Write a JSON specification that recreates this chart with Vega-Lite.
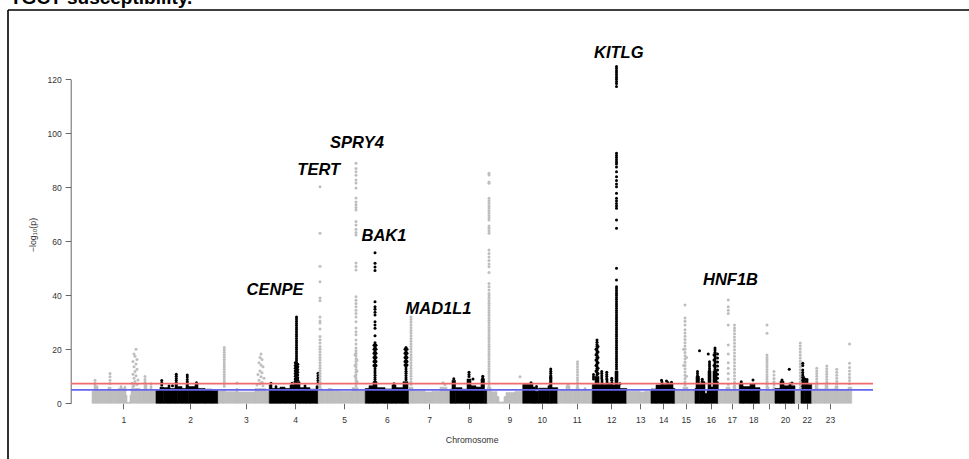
{
"$schema":"https://vega.github.io/schema/vega-lite/v6.json",
"width":961,"height":449,
"autosize":{"type":"none"},
"padding":{"left":8,"top":10,"right":0,"bottom":0},
"background":"white",
"title":{"text":"TGCT susceptibility.","anchor":"start","frame":"group","orient":"top","fontSize":19,"fontWeight":"bold","font":"Liberation Sans","color":"#000","baseline":"top","offset":2.5,"dx":2},
"config":{"view":{"stroke":"#000","strokeWidth":1.6,"strokeDash":[961,1410,449,0]}},
"datasets":{
"bulk":[
{"c":1,"x":0,"x2":8,"y":4.5},{"c":1,"x":8,"x2":16,"y":7.8},{"c":1,"x":16,"x2":24,"y":6.5},{"c":1,"x":24,"x2":64,"y":4.8},{"c":1,"x":64,"x2":76,"y":6},{"c":1,"x":76,"x2":104,"y":5},{"c":1,"x":104,"x2":112,"y":5.5},{"c":1,"x":112,"x2":120,"y":6.5},{"c":1,"x":120,"x2":128,"y":5.5},{"c":1,"x":128,"x2":136,"y":6.3},{"c":1,"x":136,"x2":140,"y":3},{"c":1,"x":140,"x2":152,"y":0.4},{"c":1,"x":152,"x2":156,"y":3},{"c":1,"x":156,"x2":192,"y":5.5},{"c":1,"x":192,"x2":208,"y":4.8},{"c":1,"x":208,"x2":220,"y":7},{"c":1,"x":220,"x2":232,"y":4.8},{"c":1,"x":232,"x2":240,"y":6.5},{"c":1,"x":240,"x2":256,"y":4.8},
{"c":2,"x":256,"x2":272,"y":4.8},{"c":2,"x":272,"x2":286,"y":6},{"c":2,"x":286,"x2":304,"y":5.8},{"c":2,"x":304,"x2":312,"y":6.8},{"c":2,"x":312,"x2":332,"y":5.5},{"c":2,"x":332,"x2":342,"y":7},{"c":2,"x":342,"x2":360,"y":6.2},{"c":2,"x":360,"x2":376,"y":5.5},{"c":2,"x":376,"x2":386,"y":7},{"c":2,"x":386,"x2":412,"y":6.2},{"c":2,"x":412,"x2":424,"y":7.1},{"c":2,"x":424,"x2":452,"y":5.5},{"c":2,"x":452,"x2":480,"y":5.2},{"c":2,"x":480,"x2":505,"y":4.8},
{"c":3,"x":505,"x2":524,"y":4.6},{"c":3,"x":524,"x2":534,"y":5},{"c":3,"x":534,"x2":576,"y":4.3},{"c":3,"x":576,"x2":584,"y":5.5},{"c":3,"x":584,"x2":652,"y":4.2},{"c":3,"x":652,"x2":696,"y":5.5},{"c":3,"x":696,"x2":709,"y":4.5},
{"c":4,"x":709,"x2":720,"y":6.8},{"c":4,"x":720,"x2":732,"y":5.5},{"c":4,"x":732,"x2":740,"y":6.5},{"c":4,"x":740,"x2":752,"y":5.5},{"c":4,"x":752,"x2":772,"y":6},{"c":4,"x":772,"x2":792,"y":5.5},{"c":4,"x":792,"x2":808,"y":6.8},{"c":4,"x":808,"x2":832,"y":8},{"c":4,"x":832,"x2":848,"y":5.8},{"c":4,"x":848,"x2":856,"y":6.8},{"c":4,"x":856,"x2":872,"y":5.8},{"c":4,"x":872,"x2":896,"y":5.2},{"c":4,"x":896,"x2":905,"y":6.5},
{"c":5,"x":905,"x2":920,"y":5.5},{"c":5,"x":920,"x2":944,"y":4.7},{"c":5,"x":944,"x2":960,"y":5.5},{"c":5,"x":960,"x2":992,"y":4.7},{"c":5,"x":992,"x2":1040,"y":4.5},{"c":5,"x":1040,"x2":1064,"y":5.8},{"c":5,"x":1064,"x2":1093,"y":4.6},
{"c":6,"x":1093,"x2":1108,"y":5.5},{"c":6,"x":1108,"x2":1124,"y":6.5},{"c":6,"x":1124,"x2":1140,"y":8},{"c":6,"x":1140,"x2":1172,"y":5.8},{"c":6,"x":1172,"x2":1200,"y":5.3},{"c":6,"x":1200,"x2":1216,"y":6.8},{"c":6,"x":1216,"x2":1244,"y":5.8},{"c":6,"x":1244,"x2":1264,"y":8},{"c":6,"x":1264,"x2":1268,"y":5},
{"c":7,"x":1268,"x2":1284,"y":6},{"c":7,"x":1284,"x2":1332,"y":4.8},{"c":7,"x":1332,"x2":1360,"y":4.2},{"c":7,"x":1360,"x2":1392,"y":4.5},{"c":7,"x":1392,"x2":1420,"y":6},{"c":7,"x":1420,"x2":1432,"y":4.8},
{"c":8,"x":1432,"x2":1440,"y":5.2},{"c":8,"x":1440,"x2":1454,"y":8.5},{"c":8,"x":1454,"x2":1480,"y":5.8},{"c":8,"x":1480,"x2":1500,"y":5.2},{"c":8,"x":1500,"x2":1516,"y":9},{"c":8,"x":1516,"x2":1536,"y":6.5},{"c":8,"x":1536,"x2":1556,"y":6},{"c":8,"x":1556,"x2":1570,"y":9},{"c":8,"x":1570,"x2":1581,"y":5},
{"c":9,"x":1581,"x2":1596,"y":6},{"c":9,"x":1596,"x2":1620,"y":4.3},{"c":9,"x":1620,"x2":1628,"y":2.5},{"c":9,"x":1628,"x2":1648,"y":0.5},{"c":9,"x":1648,"x2":1656,"y":2.5},{"c":9,"x":1656,"x2":1692,"y":4},{"c":9,"x":1692,"x2":1723,"y":4.4},
{"c":10,"x":1723,"x2":1764,"y":7},{"c":10,"x":1764,"x2":1772,"y":6},{"c":10,"x":1772,"x2":1786,"y":4.5},{"c":10,"x":1786,"x2":1824,"y":5.6},{"c":10,"x":1824,"x2":1830,"y":6.5},{"c":10,"x":1830,"x2":1840,"y":10},{"c":10,"x":1840,"x2":1863,"y":5.8},
{"c":11,"x":1863,"x2":1896,"y":4.8},{"c":11,"x":1896,"x2":1912,"y":6.5},{"c":11,"x":1912,"x2":1936,"y":4.8},{"c":11,"x":1936,"x2":1948,"y":6},{"c":11,"x":1948,"x2":1968,"y":4.8},{"c":11,"x":1968,"x2":1976,"y":5.8},{"c":11,"x":1976,"x2":1992,"y":4.8},{"c":11,"x":1992,"x2":2001,"y":4.5},
{"c":12,"x":2001,"x2":2012,"y":7},{"c":12,"x":2012,"x2":2028,"y":10},{"c":12,"x":2028,"x2":2036,"y":7},{"c":12,"x":2036,"x2":2044,"y":9},{"c":12,"x":2044,"x2":2056,"y":7},{"c":12,"x":2056,"x2":2064,"y":9},{"c":12,"x":2064,"x2":2076,"y":7.5},{"c":12,"x":2076,"x2":2084,"y":8},{"c":12,"x":2084,"x2":2092,"y":6.8},{"c":12,"x":2092,"x2":2104,"y":12},{"c":12,"x":2104,"x2":2112,"y":6.8},{"c":12,"x":2112,"x2":2139,"y":5.5},
{"c":13,"x":2139,"x2":2192,"y":4.5},{"c":13,"x":2192,"x2":2212,"y":4.2},{"c":13,"x":2212,"x2":2236,"y":4.5},
{"c":14,"x":2236,"x2":2256,"y":5.3},{"c":14,"x":2256,"x2":2276,"y":6.8},{"c":14,"x":2276,"x2":2284,"y":8.2},{"c":14,"x":2284,"x2":2300,"y":7},{"c":14,"x":2300,"x2":2308,"y":8},{"c":14,"x":2308,"x2":2324,"y":7.4},{"c":14,"x":2324,"x2":2332,"y":5.5},
{"c":15,"x":2332,"x2":2364,"y":4.8},{"c":15,"x":2364,"x2":2384,"y":6},{"c":15,"x":2384,"x2":2412,"y":4.8},
{"c":16,"x":2412,"x2":2416,"y":5.5},{"c":16,"x":2416,"x2":2430,"y":10},{"c":16,"x":2430,"x2":2436,"y":7},{"c":16,"x":2436,"x2":2452,"y":8},{"c":16,"x":2452,"x2":2460,"y":3.6},{"c":16,"x":2460,"x2":2464,"y":5},{"c":16,"x":2464,"x2":2476,"y":12},{"c":16,"x":2476,"x2":2484,"y":6},{"c":16,"x":2484,"x2":2500,"y":12},{"c":16,"x":2500,"x2":2505,"y":8},
{"c":17,"x":2505,"x2":2536,"y":4.8},{"c":17,"x":2536,"x2":2552,"y":6},{"c":17,"x":2552,"x2":2564,"y":5},{"c":17,"x":2564,"x2":2576,"y":6.5},{"c":17,"x":2576,"x2":2589,"y":4.8},
{"c":18,"x":2589,"x2":2604,"y":7.5},{"c":18,"x":2604,"x2":2632,"y":6.2},{"c":18,"x":2632,"x2":2652,"y":7.3},{"c":18,"x":2652,"x2":2672,"y":5.8},
{"c":19,"x":2672,"x2":2696,"y":4.5},{"c":19,"x":2696,"x2":2708,"y":6},{"c":19,"x":2708,"x2":2724,"y":4.8},{"c":19,"x":2724,"x2":2732,"y":6},
{"c":20,"x":2732,"x2":2752,"y":5.5},{"c":20,"x":2752,"x2":2768,"y":8.2},{"c":20,"x":2768,"x2":2788,"y":6.5},{"c":20,"x":2788,"x2":2796,"y":7.5},{"c":20,"x":2796,"x2":2812,"y":6.5},
{"c":21,"x":2812,"x2":2836,"y":4.8},
{"c":22,"x":2836,"x2":2850,"y":10},{"c":22,"x":2850,"x2":2864,"y":8.5},{"c":22,"x":2864,"x2":2879,"y":7},
{"c":23,"x":2879,"x2":2892,"y":5},{"c":23,"x":2892,"x2":2904,"y":7},{"c":23,"x":2904,"x2":2932,"y":5.3},{"c":23,"x":2932,"x2":2944,"y":7},{"c":23,"x":2944,"x2":2972,"y":5.3},{"c":23,"x":2972,"x2":2984,"y":6.5},{"c":23,"x":2984,"x2":3024,"y":5},{"c":23,"x":3024,"x2":3039,"y":6}
],
"pts":[
{"c":1,"x":12,"y":8.5},{"c":1,"x":72,"y":11},{"c":1,"x":72,"y":9.8},{"c":1,"x":72,"y":8.5},{"c":1,"x":72,"y":7.3},
{"c":1,"x":176,"y":20},{"c":1,"x":168,"y":18.3},{"c":1,"x":172,"y":17.4},{"c":1,"x":180,"y":16.2},{"c":1,"x":164,"y":15.5},{"c":1,"x":176,"y":14.6},{"c":1,"x":168,"y":13.5},{"c":1,"x":180,"y":12.6},{"c":1,"x":172,"y":11.8},{"c":1,"x":164,"y":10.8},{"c":1,"x":176,"y":10.2},{"c":1,"x":168,"y":9.3},{"c":1,"x":184,"y":8.6},{"c":1,"x":172,"y":8.1},{"c":1,"x":160,"y":7.4},{"c":1,"x":180,"y":7},{"c":1,"x":168,"y":6.6},{"c":1,"x":164,"y":6.2},
{"c":1,"x":212,"y":9.9},{"c":1,"x":212,"y":8.8},{"c":1,"x":212,"y":7.8},{"c":1,"x":236,"y":7.2},
{"c":2,"x":279,"y":8.4},{"c":2,"x":279,"y":7.5},{"c":2,"x":279,"y":6.8},{"c":2,"x":322,"y":6.5},
{"c":2,"x":337,"y":10.8},{"c":2,"x":337,"y":10},{"c":2,"x":337,"y":9.2},{"c":2,"x":337,"y":8.4},{"c":2,"x":337,"y":7.6},
{"c":2,"x":381,"y":10.5},{"c":2,"x":381,"y":9.7},{"c":2,"x":381,"y":8.8},{"c":2,"x":381,"y":8},{"c":2,"x":381,"y":7.4},{"c":2,"x":418,"y":7.6},
{"c":3,"x":529,"y":20.7},{"c":3,"x":529,"y":19.8},{"c":3,"x":529,"y":18.9},{"c":3,"x":529,"y":18},{"c":3,"x":529,"y":17.1},{"c":3,"x":529,"y":16.2},{"c":3,"x":529,"y":15.3},{"c":3,"x":529,"y":14.4},{"c":3,"x":529,"y":13.5},{"c":3,"x":529,"y":12.6},{"c":3,"x":529,"y":11.7},{"c":3,"x":529,"y":10.8},{"c":3,"x":529,"y":9.9},{"c":3,"x":529,"y":9},{"c":3,"x":529,"y":8.1},{"c":3,"x":529,"y":7.2},{"c":3,"x":529,"y":6.3},
{"c":3,"x":580,"y":7.5},
{"c":3,"x":676,"y":18.3},{"c":3,"x":672,"y":17},{"c":3,"x":680,"y":16.2},{"c":3,"x":668,"y":15},{"c":3,"x":676,"y":14.2},{"c":3,"x":684,"y":13.5},{"c":3,"x":672,"y":12},{"c":3,"x":680,"y":11.3},{"c":3,"x":664,"y":10.7},{"c":3,"x":676,"y":9.8},{"c":3,"x":688,"y":9.3},{"c":3,"x":668,"y":8.5},{"c":3,"x":680,"y":7.8},{"c":3,"x":672,"y":7.2},{"c":3,"x":660,"y":6.8},{"c":3,"x":684,"y":6.5},
{"c":4,"x":716,"y":7.4},{"c":4,"x":800,"y":7.4},
{"c":4,"x":818,"y":32},{"c":4,"x":818,"y":31.2},{"c":4,"x":818,"y":30.4},{"c":4,"x":818,"y":29.6},{"c":4,"x":818,"y":28.8},{"c":4,"x":818,"y":28},{"c":4,"x":818,"y":27.2},{"c":4,"x":818,"y":26.4},{"c":4,"x":818,"y":25.6},{"c":4,"x":818,"y":24.8},{"c":4,"x":818,"y":24},{"c":4,"x":818,"y":23.2},{"c":4,"x":818,"y":22.4},{"c":4,"x":818,"y":21.6},{"c":4,"x":818,"y":20.8},{"c":4,"x":818,"y":20},{"c":4,"x":818,"y":19.2},{"c":4,"x":818,"y":18.4},{"c":4,"x":818,"y":17.6},{"c":4,"x":818,"y":16.8},{"c":4,"x":818,"y":16},{"c":4,"x":818,"y":15.2},{"c":4,"x":818,"y":14.4},{"c":4,"x":818,"y":13.6},{"c":4,"x":818,"y":12.8},{"c":4,"x":818,"y":12},{"c":4,"x":818,"y":11.2},{"c":4,"x":818,"y":10.4},{"c":4,"x":818,"y":9.6},{"c":4,"x":818,"y":8.8},
{"c":4,"x":813,"y":15},{"c":4,"x":813,"y":14},{"c":4,"x":813,"y":13},{"c":4,"x":813,"y":12},{"c":4,"x":813,"y":11},{"c":4,"x":813,"y":10},{"c":4,"x":813,"y":9},{"c":4,"x":813,"y":8.2},
{"c":4,"x":823,"y":14.5},{"c":4,"x":823,"y":13.5},{"c":4,"x":823,"y":12.5},{"c":4,"x":823,"y":11.5},{"c":4,"x":823,"y":10.5},{"c":4,"x":823,"y":9.5},{"c":4,"x":823,"y":8.5},
{"c":4,"x":904,"y":11.1},{"c":4,"x":904,"y":10.2},{"c":4,"x":904,"y":9.3},{"c":4,"x":904,"y":8.4},{"c":4,"x":904,"y":7.5},
{"c":5,"x":912,"y":80.2},{"c":5,"x":912,"y":63},{"c":5,"x":912,"y":50.8},{"c":5,"x":912,"y":45},{"c":5,"x":912,"y":39},{"c":5,"x":912,"y":38},{"c":5,"x":912,"y":32},{"c":5,"x":912,"y":30.5},{"c":5,"x":912,"y":29.7},{"c":5,"x":912,"y":27.5},{"c":5,"x":912,"y":24.7},{"c":5,"x":912,"y":23.5},{"c":5,"x":912,"y":22.3},{"c":5,"x":912,"y":21},{"c":5,"x":912,"y":20},{"c":5,"x":912,"y":19},{"c":5,"x":912,"y":18},{"c":5,"x":912,"y":17},{"c":5,"x":912,"y":16},{"c":5,"x":912,"y":15},{"c":5,"x":912,"y":14},{"c":5,"x":912,"y":13},{"c":5,"x":912,"y":12},{"c":5,"x":912,"y":11},{"c":5,"x":912,"y":10},{"c":5,"x":912,"y":9},{"c":5,"x":912,"y":8},{"c":5,"x":912,"y":7},{"c":5,"x":912,"y":6},
{"c":5,"x":1056,"y":88.9},{"c":5,"x":1056,"y":87},{"c":5,"x":1056,"y":85.8},{"c":5,"x":1056,"y":84.5},{"c":5,"x":1056,"y":82.7},{"c":5,"x":1056,"y":81.6},{"c":5,"x":1056,"y":79.7},{"c":5,"x":1056,"y":76},{"c":5,"x":1056,"y":74.6},{"c":5,"x":1056,"y":73.5},{"c":5,"x":1056,"y":72.5},{"c":5,"x":1056,"y":71.6},{"c":5,"x":1056,"y":67.3},{"c":5,"x":1056,"y":66},{"c":5,"x":1056,"y":64.5},{"c":5,"x":1056,"y":63.3},{"c":5,"x":1056,"y":62.3},{"c":5,"x":1056,"y":52},{"c":5,"x":1056,"y":50.7},{"c":5,"x":1056,"y":49.4},{"c":5,"x":1056,"y":39.5},{"c":5,"x":1056,"y":38.2},{"c":5,"x":1056,"y":37},{"c":5,"x":1056,"y":35.8},{"c":5,"x":1056,"y":34.5},{"c":5,"x":1056,"y":33.3},{"c":5,"x":1056,"y":32},{"c":5,"x":1056,"y":30.2},{"c":5,"x":1056,"y":27.9},{"c":5,"x":1056,"y":26.5},{"c":5,"x":1056,"y":25.4},{"c":5,"x":1056,"y":23.4},{"c":5,"x":1056,"y":22},{"c":5,"x":1056,"y":20.5},{"c":5,"x":1056,"y":19.5},{"c":5,"x":1056,"y":18.5},{"c":5,"x":1056,"y":17.5},{"c":5,"x":1056,"y":16.5},{"c":5,"x":1056,"y":15.5},{"c":5,"x":1056,"y":14.5},{"c":5,"x":1056,"y":13.5},{"c":5,"x":1056,"y":12.5},{"c":5,"x":1056,"y":11.5},{"c":5,"x":1056,"y":10.5},{"c":5,"x":1056,"y":9.5},{"c":5,"x":1056,"y":8.5},{"c":5,"x":1056,"y":7.5},{"c":5,"x":1056,"y":6.5},
{"c":5,"x":1052,"y":18},{"c":5,"x":1060,"y":16},{"c":5,"x":1052,"y":14},{"c":5,"x":1060,"y":12},{"c":5,"x":1052,"y":10},{"c":5,"x":1060,"y":8},
{"c":6,"x":1132,"y":55.8},{"c":6,"x":1132,"y":51.9},{"c":6,"x":1132,"y":50.5},{"c":6,"x":1132,"y":49.2},{"c":6,"x":1132,"y":37.6},{"c":6,"x":1132,"y":35.8},{"c":6,"x":1132,"y":34.8},{"c":6,"x":1132,"y":33.7},{"c":6,"x":1132,"y":32.7},{"c":6,"x":1132,"y":30.2},{"c":6,"x":1132,"y":29},{"c":6,"x":1132,"y":27.8},{"c":6,"x":1132,"y":25},{"c":6,"x":1132,"y":22.4},{"c":6,"x":1132,"y":21.6},{"c":6,"x":1132,"y":20.8},{"c":6,"x":1132,"y":20},{"c":6,"x":1132,"y":19.2},{"c":6,"x":1132,"y":18.4},{"c":6,"x":1132,"y":17.6},{"c":6,"x":1132,"y":16.8},{"c":6,"x":1132,"y":16},{"c":6,"x":1132,"y":15.2},{"c":6,"x":1132,"y":14.4},{"c":6,"x":1132,"y":13.6},{"c":6,"x":1132,"y":12.8},{"c":6,"x":1132,"y":12},{"c":6,"x":1132,"y":11.2},{"c":6,"x":1132,"y":10.4},{"c":6,"x":1132,"y":9.6},{"c":6,"x":1132,"y":8.8},{"c":6,"x":1132,"y":8},
{"c":6,"x":1128,"y":21.5},{"c":6,"x":1128,"y":20},{"c":6,"x":1128,"y":18.5},{"c":6,"x":1128,"y":17},{"c":6,"x":1128,"y":15.5},{"c":6,"x":1128,"y":14},
{"c":6,"x":1136,"y":21.5},{"c":6,"x":1136,"y":20},{"c":6,"x":1136,"y":18.5},{"c":6,"x":1136,"y":17},{"c":6,"x":1136,"y":15.5},{"c":6,"x":1136,"y":14},
{"c":6,"x":1256,"y":20.7},{"c":6,"x":1256,"y":19.9},{"c":6,"x":1256,"y":19.1},{"c":6,"x":1256,"y":18.3},{"c":6,"x":1256,"y":17.5},{"c":6,"x":1256,"y":16.7},{"c":6,"x":1256,"y":15.9},{"c":6,"x":1256,"y":15.1},{"c":6,"x":1256,"y":14.3},{"c":6,"x":1256,"y":13.5},{"c":6,"x":1256,"y":12.7},{"c":6,"x":1256,"y":11.9},{"c":6,"x":1256,"y":11.1},{"c":6,"x":1256,"y":10.3},{"c":6,"x":1256,"y":9.5},{"c":6,"x":1256,"y":8.7},
{"c":6,"x":1252,"y":20},{"c":6,"x":1252,"y":18.5},{"c":6,"x":1252,"y":17},{"c":6,"x":1252,"y":15.5},{"c":6,"x":1252,"y":14.2},
{"c":6,"x":1260,"y":20},{"c":6,"x":1260,"y":18.5},{"c":6,"x":1260,"y":17},{"c":6,"x":1260,"y":15.5},{"c":6,"x":1260,"y":14.2},{"c":6,"x":1208,"y":7.2},
{"c":7,"x":1276,"y":32},{"c":7,"x":1276,"y":31},{"c":7,"x":1276,"y":30},{"c":7,"x":1276,"y":29},{"c":7,"x":1276,"y":28},{"c":7,"x":1276,"y":27},{"c":7,"x":1276,"y":26},{"c":7,"x":1276,"y":25},{"c":7,"x":1276,"y":24},{"c":7,"x":1276,"y":23},{"c":7,"x":1276,"y":22},{"c":7,"x":1276,"y":21},{"c":7,"x":1276,"y":20},{"c":7,"x":1276,"y":19},{"c":7,"x":1276,"y":18},{"c":7,"x":1276,"y":17},{"c":7,"x":1276,"y":16},{"c":7,"x":1276,"y":15},{"c":7,"x":1276,"y":14},{"c":7,"x":1276,"y":13},{"c":7,"x":1276,"y":12},{"c":7,"x":1276,"y":11},{"c":7,"x":1276,"y":10},{"c":7,"x":1276,"y":9},{"c":7,"x":1276,"y":8},{"c":7,"x":1276,"y":7},
{"c":7,"x":1404,"y":7.6},{"c":7,"x":1412,"y":7},
{"c":8,"x":1447,"y":9.1},{"c":8,"x":1508,"y":11.5},{"c":8,"x":1508,"y":10.7},{"c":8,"x":1508,"y":9.9},{"c":8,"x":1524,"y":9},{"c":8,"x":1563,"y":10},{"c":8,"x":1563,"y":9.3},
{"c":9,"x":1588,"y":85.2},{"c":9,"x":1588,"y":84.6},{"c":9,"x":1588,"y":82},{"c":9,"x":1588,"y":81.5},{"c":9,"x":1588,"y":75.9},{"c":9,"x":1588,"y":75},{"c":9,"x":1588,"y":74.1},{"c":9,"x":1588,"y":73.2},{"c":9,"x":1588,"y":72.3},{"c":9,"x":1588,"y":71.4},{"c":9,"x":1588,"y":70.5},{"c":9,"x":1588,"y":69.6},{"c":9,"x":1588,"y":68.7},{"c":9,"x":1588,"y":67.9},{"c":9,"x":1588,"y":65.7},{"c":9,"x":1588,"y":64.8},{"c":9,"x":1588,"y":63.9},{"c":9,"x":1588,"y":63},{"c":9,"x":1588,"y":56.8},{"c":9,"x":1588,"y":55.5},{"c":9,"x":1588,"y":54.2},{"c":9,"x":1588,"y":52.9},{"c":9,"x":1588,"y":51.6},{"c":9,"x":1588,"y":50.6},{"c":9,"x":1588,"y":48.4},{"c":9,"x":1588,"y":44.4},{"c":9,"x":1588,"y":43.2},{"c":9,"x":1588,"y":42},{"c":9,"x":1588,"y":40.7},{"c":9,"x":1588,"y":39.8},{"c":9,"x":1588,"y":38.9},{"c":9,"x":1588,"y":38},{"c":9,"x":1588,"y":37.1},{"c":9,"x":1588,"y":36.2},{"c":9,"x":1588,"y":35.3},{"c":9,"x":1588,"y":34.4},{"c":9,"x":1588,"y":33.5},{"c":9,"x":1588,"y":32.6},{"c":9,"x":1588,"y":31.7},{"c":9,"x":1588,"y":30.8},{"c":9,"x":1588,"y":29.9},{"c":9,"x":1588,"y":29},{"c":9,"x":1588,"y":28.1},{"c":9,"x":1588,"y":27.2},{"c":9,"x":1588,"y":26.3},{"c":9,"x":1588,"y":25.4},{"c":9,"x":1588,"y":24.5},{"c":9,"x":1588,"y":23.6},{"c":9,"x":1588,"y":22.7},{"c":9,"x":1588,"y":21.8},{"c":9,"x":1588,"y":20.9},{"c":9,"x":1588,"y":20},{"c":9,"x":1588,"y":19.1},{"c":9,"x":1588,"y":18.2},{"c":9,"x":1588,"y":17.3},{"c":9,"x":1588,"y":16.4},{"c":9,"x":1588,"y":15.5},{"c":9,"x":1588,"y":14.6},{"c":9,"x":1588,"y":13.7},{"c":9,"x":1588,"y":12.8},{"c":9,"x":1588,"y":11.9},{"c":9,"x":1588,"y":11},{"c":9,"x":1588,"y":10.1},{"c":9,"x":1588,"y":9.2},{"c":9,"x":1588,"y":8.3},{"c":9,"x":1588,"y":7.4},{"c":9,"x":1588,"y":6.5},
{"c":9,"x":1712,"y":9.8},
{"c":10,"x":1835,"y":12.7},{"c":10,"x":1835,"y":11.9},{"c":10,"x":1835,"y":11.1},{"c":10,"x":1835,"y":10.3},{"c":10,"x":1835,"y":9.5},{"c":10,"x":1778,"y":5.5},{"c":10,"x":1778,"y":6.2},{"c":10,"x":1756,"y":7.6},
{"c":11,"x":1942,"y":15.4},{"c":11,"x":1942,"y":14.5},{"c":11,"x":1942,"y":13.5},{"c":11,"x":1942,"y":12.5},{"c":11,"x":1942,"y":11.5},{"c":11,"x":1942,"y":10.5},{"c":11,"x":1942,"y":9.5},{"c":11,"x":1942,"y":8.5},{"c":11,"x":1942,"y":7.5},{"c":11,"x":1942,"y":6.5},{"c":11,"x":1904,"y":7},
{"c":12,"x":2020,"y":23.4},{"c":12,"x":2020,"y":22.6},{"c":12,"x":2020,"y":21.8},{"c":12,"x":2020,"y":21},{"c":12,"x":2020,"y":20.2},{"c":12,"x":2020,"y":19.4},{"c":12,"x":2020,"y":18.6},{"c":12,"x":2020,"y":17.8},{"c":12,"x":2020,"y":17},{"c":12,"x":2020,"y":16.2},{"c":12,"x":2020,"y":15.4},{"c":12,"x":2020,"y":14.6},{"c":12,"x":2020,"y":13.8},{"c":12,"x":2020,"y":13},{"c":12,"x":2020,"y":12.2},{"c":12,"x":2020,"y":11.4},{"c":12,"x":2020,"y":10.6},
{"c":12,"x":2016,"y":20},{"c":12,"x":2016,"y":18},{"c":12,"x":2016,"y":16},{"c":12,"x":2016,"y":14},{"c":12,"x":2016,"y":12},
{"c":12,"x":2024,"y":21},{"c":12,"x":2024,"y":19},{"c":12,"x":2024,"y":17},{"c":12,"x":2024,"y":15},{"c":12,"x":2024,"y":13},{"c":12,"x":2024,"y":11},
{"c":12,"x":2006,"y":10.7},{"c":12,"x":2006,"y":9.8},{"c":12,"x":2006,"y":9},
{"c":12,"x":2039,"y":11.8},{"c":12,"x":2039,"y":11},{"c":12,"x":2039,"y":10.2},{"c":12,"x":2039,"y":9.4},
{"c":12,"x":2059,"y":11.5},{"c":12,"x":2059,"y":10.7},{"c":12,"x":2059,"y":9.9},{"c":12,"x":2059,"y":9.1},
{"c":12,"x":2079,"y":9.3},{"c":12,"x":2079,"y":8.5},
{"c":12,"x":2098,"y":124.7},{"c":12,"x":2098,"y":124},{"c":12,"x":2098,"y":123.2},{"c":12,"x":2098,"y":122.4},{"c":12,"x":2098,"y":121.6},{"c":12,"x":2098,"y":120.8},{"c":12,"x":2098,"y":120},{"c":12,"x":2098,"y":119.2},{"c":12,"x":2098,"y":118.4},{"c":12,"x":2098,"y":117.3},{"c":12,"x":2098,"y":92.6},{"c":12,"x":2098,"y":91.8},{"c":12,"x":2098,"y":91},{"c":12,"x":2098,"y":90.2},{"c":12,"x":2098,"y":89.4},{"c":12,"x":2098,"y":88.6},{"c":12,"x":2098,"y":87.5},{"c":12,"x":2098,"y":85.8},{"c":12,"x":2098,"y":83.9},{"c":12,"x":2098,"y":82.5},{"c":12,"x":2098,"y":81.2},{"c":12,"x":2098,"y":80.2},{"c":12,"x":2098,"y":77.8},{"c":12,"x":2098,"y":75.9},{"c":12,"x":2098,"y":75},{"c":12,"x":2098,"y":74},{"c":12,"x":2098,"y":73.1},{"c":12,"x":2098,"y":72.2},{"c":12,"x":2098,"y":67.9},{"c":12,"x":2098,"y":64.8},{"c":12,"x":2098,"y":50},{"c":12,"x":2098,"y":45.7},{"c":12,"x":2098,"y":43.2},{"c":12,"x":2098,"y":42.4},{"c":12,"x":2098,"y":41.6},{"c":12,"x":2098,"y":40.8},{"c":12,"x":2098,"y":40},{"c":12,"x":2098,"y":39.2},{"c":12,"x":2098,"y":38.4},{"c":12,"x":2098,"y":37.6},{"c":12,"x":2098,"y":36.8},{"c":12,"x":2098,"y":36},{"c":12,"x":2098,"y":35.2},{"c":12,"x":2098,"y":34.4},{"c":12,"x":2098,"y":33.6},{"c":12,"x":2098,"y":32.8},{"c":12,"x":2098,"y":32},{"c":12,"x":2098,"y":31.2},{"c":12,"x":2098,"y":30.4},{"c":12,"x":2098,"y":29.6},{"c":12,"x":2098,"y":28.8},{"c":12,"x":2098,"y":28},{"c":12,"x":2098,"y":27.2},{"c":12,"x":2098,"y":26.4},{"c":12,"x":2098,"y":25.6},{"c":12,"x":2098,"y":24.8},{"c":12,"x":2098,"y":24},{"c":12,"x":2098,"y":23.2},{"c":12,"x":2098,"y":22.4},{"c":12,"x":2098,"y":21.6},{"c":12,"x":2098,"y":20.8},{"c":12,"x":2098,"y":20},{"c":12,"x":2098,"y":19.2},{"c":12,"x":2098,"y":18.4},{"c":12,"x":2098,"y":17.6},{"c":12,"x":2098,"y":16.8},{"c":12,"x":2098,"y":16},{"c":12,"x":2098,"y":15.2},{"c":12,"x":2098,"y":14.4},{"c":12,"x":2098,"y":13.6},{"c":12,"x":2098,"y":12.8},
{"c":12,"x":2112,"y":7.2},
{"c":14,"x":2278,"y":8.5},{"c":14,"x":2298,"y":8.3},{"c":14,"x":2318,"y":7.8},
{"c":15,"x":2372,"y":36.4},{"c":15,"x":2372,"y":31.6},{"c":15,"x":2372,"y":30.4},{"c":15,"x":2372,"y":29},{"c":15,"x":2372,"y":27.2},{"c":15,"x":2372,"y":26},{"c":15,"x":2372,"y":24.8},{"c":15,"x":2372,"y":23.6},{"c":15,"x":2372,"y":22.4},{"c":15,"x":2372,"y":21.2},{"c":15,"x":2372,"y":20},{"c":15,"x":2372,"y":18.8},{"c":15,"x":2372,"y":17.6},{"c":15,"x":2372,"y":16.4},{"c":15,"x":2372,"y":15.2},{"c":15,"x":2372,"y":14},{"c":15,"x":2372,"y":12.8},{"c":15,"x":2372,"y":11.6},{"c":15,"x":2372,"y":10.4},{"c":15,"x":2372,"y":9.2},{"c":15,"x":2372,"y":8},{"c":15,"x":2372,"y":6.8},
{"c":15,"x":2366,"y":20},{"c":15,"x":2378,"y":17},{"c":15,"x":2366,"y":14},{"c":15,"x":2378,"y":10},
{"c":16,"x":2422,"y":11.8},{"c":16,"x":2422,"y":11},{"c":16,"x":2422,"y":10.2},{"c":16,"x":2430,"y":19.5},{"c":16,"x":2441,"y":8.9},{"c":16,"x":2441,"y":8.2},{"c":16,"x":2465,"y":18.3},
{"c":16,"x":2470,"y":15.4},{"c":16,"x":2470,"y":14.6},{"c":16,"x":2470,"y":13.8},{"c":16,"x":2470,"y":13},{"c":16,"x":2470,"y":12.2},
{"c":16,"x":2492,"y":20.5},{"c":16,"x":2492,"y":19.7},{"c":16,"x":2492,"y":18.9},{"c":16,"x":2492,"y":18.1},{"c":16,"x":2492,"y":17.3},{"c":16,"x":2492,"y":16.5},{"c":16,"x":2492,"y":15.7},{"c":16,"x":2492,"y":14.9},{"c":16,"x":2492,"y":14.1},{"c":16,"x":2492,"y":13.3},{"c":16,"x":2492,"y":12.5},
{"c":16,"x":2488,"y":18},{"c":16,"x":2488,"y":16},{"c":16,"x":2488,"y":14},
{"c":16,"x":2502,"y":18.3},{"c":16,"x":2502,"y":16.8},{"c":16,"x":2502,"y":15.3},{"c":16,"x":2502,"y":13.8},{"c":16,"x":2502,"y":12.3},{"c":16,"x":2502,"y":10.8},{"c":16,"x":2502,"y":9.3},
{"c":17,"x":2545,"y":38.3},{"c":17,"x":2545,"y":35.8},{"c":17,"x":2545,"y":34.5},{"c":17,"x":2545,"y":33.3},{"c":17,"x":2545,"y":29},{"c":17,"x":2545,"y":21.6},{"c":17,"x":2545,"y":18.3},{"c":17,"x":2545,"y":15},{"c":17,"x":2545,"y":13},{"c":17,"x":2545,"y":11},{"c":17,"x":2545,"y":9},{"c":17,"x":2545,"y":7},
{"c":17,"x":2570,"y":29},{"c":17,"x":2570,"y":27.9},{"c":17,"x":2570,"y":27},{"c":17,"x":2570,"y":25.8},{"c":17,"x":2570,"y":24.6},{"c":17,"x":2570,"y":23.4},{"c":17,"x":2570,"y":22.2},{"c":17,"x":2570,"y":21},{"c":17,"x":2570,"y":19.8},{"c":17,"x":2570,"y":18.6},{"c":17,"x":2570,"y":17.4},{"c":17,"x":2570,"y":16.2},{"c":17,"x":2570,"y":15},{"c":17,"x":2570,"y":13.8},{"c":17,"x":2570,"y":12.6},{"c":17,"x":2570,"y":11.4},{"c":17,"x":2570,"y":10.2},{"c":17,"x":2570,"y":9},{"c":17,"x":2570,"y":7.8},{"c":17,"x":2570,"y":6.6},
{"c":18,"x":2644,"y":8.6},{"c":18,"x":2597,"y":8},
{"c":19,"x":2700,"y":29},{"c":19,"x":2700,"y":25.9},{"c":19,"x":2700,"y":17.9},{"c":19,"x":2700,"y":17},{"c":19,"x":2700,"y":16.1},{"c":19,"x":2700,"y":15.2},{"c":19,"x":2700,"y":14.3},{"c":19,"x":2700,"y":13.4},{"c":19,"x":2700,"y":12.5},{"c":19,"x":2700,"y":11.6},{"c":19,"x":2700,"y":10.7},{"c":19,"x":2700,"y":9.8},{"c":19,"x":2700,"y":8.9},{"c":19,"x":2700,"y":8},{"c":19,"x":2700,"y":7.1},{"c":19,"x":2700,"y":6.2},
{"c":19,"x":2728,"y":11.8},{"c":19,"x":2728,"y":10.5},{"c":19,"x":2728,"y":9.2},{"c":19,"x":2728,"y":8},{"c":19,"x":2728,"y":6.8},
{"c":20,"x":2760,"y":8.6},{"c":20,"x":2789,"y":12.6},{"c":20,"x":2800,"y":7.5},
{"c":21,"x":2833,"y":22.3},{"c":21,"x":2833,"y":21.2},{"c":21,"x":2833,"y":20.1},{"c":21,"x":2833,"y":19},{"c":21,"x":2833,"y":17.9},{"c":21,"x":2833,"y":16.8},{"c":21,"x":2833,"y":15.7},{"c":21,"x":2833,"y":14.6},{"c":21,"x":2833,"y":13.5},{"c":21,"x":2833,"y":12.4},{"c":21,"x":2833,"y":11.3},{"c":21,"x":2833,"y":10.2},{"c":21,"x":2833,"y":9.1},{"c":21,"x":2833,"y":8},{"c":21,"x":2833,"y":6.9},{"c":21,"x":2833,"y":5.8},
{"c":22,"x":2843,"y":14.8},{"c":22,"x":2843,"y":14},{"c":22,"x":2843,"y":12.3},{"c":22,"x":2843,"y":11.4},{"c":22,"x":2843,"y":10.5},{"c":22,"x":2852,"y":9},{"c":22,"x":2860,"y":8.8},
{"c":23,"x":2899,"y":13},{"c":23,"x":2899,"y":12},{"c":23,"x":2899,"y":11},{"c":23,"x":2899,"y":10},{"c":23,"x":2899,"y":9},{"c":23,"x":2899,"y":8},{"c":23,"x":2899,"y":7},
{"c":23,"x":2939,"y":13.8},{"c":23,"x":2939,"y":12.8},{"c":23,"x":2939,"y":11.8},{"c":23,"x":2939,"y":10.8},{"c":23,"x":2939,"y":9.8},{"c":23,"x":2939,"y":8.8},{"c":23,"x":2939,"y":7.8},
{"c":23,"x":2979,"y":12.6},{"c":23,"x":2979,"y":11.5},{"c":23,"x":2979,"y":10.4},{"c":23,"x":2979,"y":9.3},{"c":23,"x":2979,"y":8.2},{"c":23,"x":2979,"y":7.2},
{"c":23,"x":3030,"y":22},{"c":23,"x":3030,"y":14.8},{"c":23,"x":3030,"y":13.3},{"c":23,"x":3030,"y":12},{"c":23,"x":3030,"y":10.8},{"c":23,"x":3030,"y":9.6},{"c":23,"x":3030,"y":8.4},{"c":23,"x":3030,"y":7.2}
],
"genes":[
{"g":"KITLG","x":2107,"y":129.7},{"g":"SPRY4","x":1060,"y":96.3},{"g":"TERT","x":907,"y":86.4},{"g":"BAK1","x":1168,"y":61.9},{"g":"CENPE","x":732,"y":42.1},{"g":"MAD1L1","x":1386,"y":34.9},{"g":"HNF1B","x":2554,"y":45.8}
]
},
"encoding":{
"x":{"field":"x","type":"quantitative","scale":{"domain":[-84,3124],"range":[63,865],"nice":false,"zero":false},
 "axis":{"title":"Chromosome","values":[125,392,615,812,1008,1179,1348,1509,1669,1799,1939,2077,2193,2285,2375,2475,2559,2645,2708,2772,2823,2859,2952],
 "labelExpr":"['1','2','3','4','5','6','7','8','9','10','11','12','13','14','15','16','17','18','','20','','22','23'][indexof([125,392,615,812,1008,1179,1348,1509,1669,1799,1939,2077,2193,2285,2375,2475,2559,2645,2708,2772,2823,2859,2952], datum.value)]",
 "domain":false,"grid":false,"offset":-55.7,"tickSize":5.5,"tickColor":"#666","tickWidth":1,"labelColor":"#333","labelFont":"Liberation Sans","labelFontSize":8.5,"labelPadding":11,"labelBaseline":"middle","labelOverlap":false,"labelFlush":false,"labelBound":false,
 "titleFont":"Liberation Sans","titleFontSize":8.8,"titleFontWeight":"normal","titleColor":"#333","titleX":463.7,"titleY":36,"titleBaseline":"middle","titleAlign":"center","titleAnchor":null}},
"y":{"field":"y","type":"quantitative","scale":{"domain":[0,120],"range":[393.3,69.3],"nice":false,"zero":false},
 "axis":{"title":"−log₁₀(p)","values":[0,20,40,60,80,100,120],"grid":false,"offset":-62.7,"domainColor":"#666","domainWidth":1,"tickColor":"#666","tickSize":5.5,"labelPadding":4,"labelColor":"#333","labelFont":"Liberation Sans","labelFontSize":8.5,
 "titleFont":"Liberation Sans","titleFontSize":8.8,"titleFontWeight":"normal","titleColor":"#333","titleX":-37.7,"titleY":224.5,"titleBaseline":"middle","titleAlign":"center","titleAngle":270}},
"color":{"field":"c","type":"ordinal","scale":{"domain":[1,2,3,4,5,6,7,8,9,10,11,12,13,14,15,16,17,18,19,20,21,22,23],"range":["#BEBEBE","#000000","#BEBEBE","#000000","#BEBEBE","#000000","#BEBEBE","#000000","#BEBEBE","#000000","#BEBEBE","#000000","#BEBEBE","#000000","#BEBEBE","#000000","#BEBEBE","#000000","#BEBEBE","#000000","#BEBEBE","#000000","#BEBEBE"]},"legend":null}
},
"layer":[
{"data":{"name":"bulk"},"mark":{"type":"rect","strokeWidth":0.6},
 "encoding":{"x2":{"field":"x2"},"y2":{"datum":0},
 "stroke":{"field":"c","type":"ordinal","scale":{"domain":[1,2,3,4,5,6,7,8,9,10,11,12,13,14,15,16,17,18,19,20,21,22,23],"range":["#BEBEBE","#000000","#BEBEBE","#000000","#BEBEBE","#000000","#BEBEBE","#000000","#BEBEBE","#000000","#BEBEBE","#000000","#BEBEBE","#000000","#BEBEBE","#000000","#BEBEBE","#000000","#BEBEBE","#000000","#BEBEBE","#000000","#BEBEBE"]},"legend":null}}},
{"data":{"name":"pts"},"mark":{"type":"circle","size":9,"opacity":1}},
{"data":{"values":[{"line":"genome-wide 5e-8","y":7.3,"x":-84,"x2":3124}]},"mark":{"type":"rule","strokeWidth":1.7},"encoding":{"x2":{"field":"x2"},"color":{"value":"#F26A6A"}}},
{"data":{"values":[{"line":"suggestive 1e-5","y":5,"x":-84,"x2":3124}]},"mark":{"type":"rule","strokeWidth":1.7},"encoding":{"x2":{"field":"x2"},"color":{"value":"#6565F2"}}},
{"data":{"name":"genes"},"mark":{"type":"text","fontStyle":"italic","fontWeight":"bold","fontSize":16.5,"font":"Liberation Sans","align":"center","baseline":"middle"},
 "encoding":{"text":{"field":"g"},"color":{"value":"#000000"}}}
]
}
